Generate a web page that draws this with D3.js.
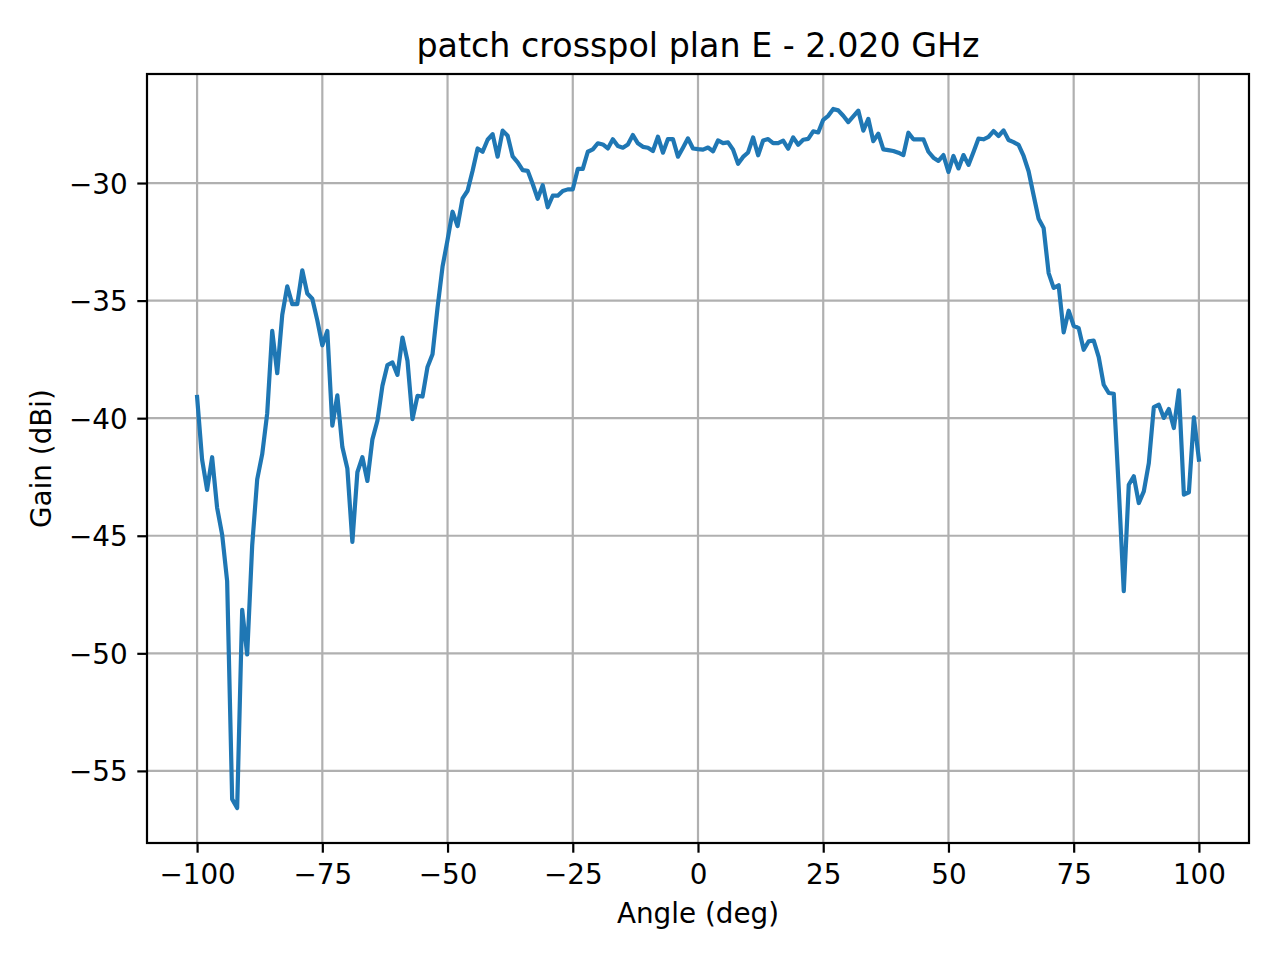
<!DOCTYPE html>
<html>
<head>
<meta charset="utf-8">
<script src="https://cdn.jsdelivr.net/npm/d3@7"></script>
<style>
  html, body { margin: 0; padding: 0; background: #fff; }
  svg { display: block; font-family: "DejaVu Sans", sans-serif; }
</style>
</head>
<body>
<svg id="chart" width="1280" height="960"></svg>
<script>
const title = "patch crosspol plan E - 2.020 GHz";
const xLabel = "Angle (deg)";
const yLabel = "Gain (dBi)";

const angles = [
  -100,-99,-98,-97,-96,-95,-94,-93,-92,-91,-90,-89,-88,-87,-86,-85,-84,-83,-82,-81,
  -80,-79,-78,-77,-76,-75,-74,-73,-72,-71,-70,-69,-68,-67,-66,-65,-64,-63,-62,-61,
  -60,-59,-58,-57,-56,-55,-54,-53,-52,-51,-50,-49,-48,-47,-46,-45,-44,-43,-42,-41,
  -40,-39,-38,-37,-36,-35,-34,-33,-32,-31,-30,-29,-28,-27,-26,-25,-24,-23,-22,-21,
  -20,-19,-18,-17,-16,-15,-14,-13,-12,-11,-10,-9,-8,-7,-6,-5,-4,-3,-2,-1,
  0,1,2,3,4,5,6,7,8,9,10,11,12,13,14,15,16,17,18,19,
  20,21,22,23,24,25,26,27,28,29,30,31,32,33,34,35,36,37,38,39,
  40,41,42,43,44,45,46,47,48,49,50,51,52,53,54,55,56,57,58,59,
  60,61,62,63,64,65,66,67,68,69,70,71,72,73,74,75,76,77,78,79,
  80,81,82,83,84,85,86,87,88,89,90,91,92,93,94,95,96,97,98,99,
  100
];

const gain = [
  -39.10,-41.76,-43.05,-41.66,-43.81,-44.95,-46.93,-56.20,-56.58,-48.15,
  -50.05,-45.41,-42.60,-41.53,-39.79,-36.29,-38.09,-35.61,-34.39,-35.15,
  -35.15,-33.71,-34.70,-34.92,-35.84,-36.90,-36.29,-40.32,-39.03,-41.23,
  -42.14,-45.26,-42.30,-41.66,-42.67,-40.90,-40.11,-38.62,-37.74,-37.63,
  -38.16,-36.57,-37.56,-40.04,-39.05,-39.08,-37.82,-37.28,-35.30,-33.56,
  -32.42,-31.22,-31.83,-30.65,-30.33,-29.48,-28.53,-28.67,-28.16,-27.92,
  -28.88,-27.77,-27.99,-28.87,-29.12,-29.45,-29.48,-30.04,-30.67,-30.09,
  -31.03,-30.54,-30.54,-30.34,-30.27,-30.27,-29.40,-29.40,-28.67,-28.57,
  -28.31,-28.36,-28.53,-28.14,-28.43,-28.50,-28.36,-27.96,-28.31,-28.46,
  -28.50,-28.64,-28.03,-28.71,-28.13,-28.13,-28.88,-28.50,-28.10,-28.53,
  -28.56,-28.58,-28.49,-28.65,-28.19,-28.30,-28.27,-28.58,-29.18,-28.89,
  -28.70,-28.06,-28.82,-28.19,-28.13,-28.30,-28.30,-28.20,-28.54,-28.06,
  -28.37,-28.16,-28.12,-27.80,-27.85,-27.31,-27.14,-26.85,-26.91,-27.14,
  -27.41,-27.17,-26.92,-27.77,-27.27,-28.22,-27.90,-28.57,-28.60,-28.64,
  -28.71,-28.81,-27.86,-28.14,-28.14,-28.14,-28.67,-28.92,-29.06,-28.81,
  -29.53,-28.85,-29.38,-28.81,-29.23,-28.68,-28.11,-28.14,-28.04,-27.79,
  -28.00,-27.76,-28.17,-28.26,-28.38,-28.85,-29.50,-30.52,-31.52,-31.91,
  -33.83,-34.46,-34.35,-36.35,-35.43,-36.07,-36.17,-37.09,-36.73,-36.70,
  -37.40,-38.58,-38.93,-38.96,-43.00,-47.36,-42.83,-42.47,-43.61,-43.11,
  -41.91,-39.53,-39.43,-39.99,-39.61,-40.42,-38.82,-43.25,-43.15,-39.96,
  -41.76
];

const xTicks = [-100, -75, -50, -25, 0, 25, 50, 75, 100];
const yTicks = [-55, -50, -45, -40, -35, -30];

const W = 1280, H = 960;
const m = { left: 147, right: 1249, top: 74, bottom: 843 };

const svg = d3.select("#chart");

// matplotlib-like autoscale with 5% margins
const xExt = d3.extent(angles), yExt = d3.extent(gain);
const xPad = (xExt[1] - xExt[0]) * 0.05, yPad = (yExt[1] - yExt[0]) * 0.05;

const x = d3.scaleLinear().domain([xExt[0] - xPad, xExt[1] + xPad]).range([m.left, m.right]);
const y = d3.scaleLinear().domain([yExt[0] - yPad, yExt[1] + yPad]).range([m.bottom, m.top]);

const fmt = d => (d < 0 ? "\u2212" + Math.abs(d) : String(d));
const tickFont = 27.8;
const lw = 2.2;

// grid
const grid = svg.append("g");
grid.selectAll(".gx").data(xTicks).join("line")
  .attr("x1", d => x(d)).attr("x2", d => x(d))
  .attr("y1", m.top).attr("y2", m.bottom)
  .attr("stroke", "#b0b0b0").attr("stroke-width", lw);
grid.selectAll(".gy").data(yTicks).join("line")
  .attr("x1", m.left).attr("x2", m.right)
  .attr("y1", d => y(d)).attr("y2", d => y(d))
  .attr("stroke", "#b0b0b0").attr("stroke-width", lw);

// data line
const clipId = "clip";
svg.append("clipPath").attr("id", clipId).append("rect")
  .attr("x", m.left).attr("y", m.top)
  .attr("width", m.right - m.left).attr("height", m.bottom - m.top);

const line = d3.line().x((d, i) => x(angles[i])).y(d => y(d));
svg.append("path")
  .datum(gain)
  .attr("clip-path", `url(#${clipId})`)
  .attr("fill", "none")
  .attr("stroke", "#1f77b4")
  .attr("stroke-width", 4.2)
  .attr("stroke-linejoin", "round")
  .attr("stroke-linecap", "square")
  .attr("d", line);

// axes using d3 axis generators
const xAxis = d3.axisBottom(x).tickValues(xTicks).tickFormat(fmt)
  .tickSize(9.7).tickPadding(11.7).tickSizeOuter(0);
const yAxis = d3.axisLeft(y).tickValues(yTicks).tickFormat(fmt)
  .tickSize(9.7).tickPadding(9.7).tickSizeOuter(0);

const gx = svg.append("g").attr("transform", `translate(0,${m.bottom})`).call(xAxis);
const gy = svg.append("g").attr("transform", `translate(${m.left},0)`).call(yAxis);
[gx, gy].forEach(g => {
  g.select(".domain").remove();
  g.selectAll(".tick line").attr("stroke", "#000").attr("stroke-width", lw);
  g.selectAll(".tick text")
    .attr("fill", "#000")
    .style("font-family", "'DejaVu Sans', sans-serif")
    .style("font-size", tickFont + "px");
});
gy.selectAll(".tick text").attr("dy", "0.36em");

// spines
svg.append("rect")
  .attr("x", m.left).attr("y", m.top)
  .attr("width", m.right - m.left).attr("height", m.bottom - m.top)
  .attr("fill", "none").attr("stroke", "#000").attr("stroke-width", lw);

// title and labels
svg.append("text")
  .attr("x", (m.left + m.right) / 2).attr("y", 57)
  .attr("text-anchor", "middle")
  .style("font-size", "33.3px").attr("fill", "#000")
  .text(title);

svg.append("text")
  .attr("x", (m.left + m.right) / 2).attr("y", 923)
  .attr("text-anchor", "middle")
  .style("font-size", tickFont + "px").attr("fill", "#000")
  .text(xLabel);

svg.append("text")
  .attr("transform", `translate(51,${(m.top + m.bottom) / 2}) rotate(-90)`)
  .attr("text-anchor", "middle")
  .style("font-size", tickFont + "px").attr("fill", "#000")
  .text(yLabel);
</script>
</body>
</html>
